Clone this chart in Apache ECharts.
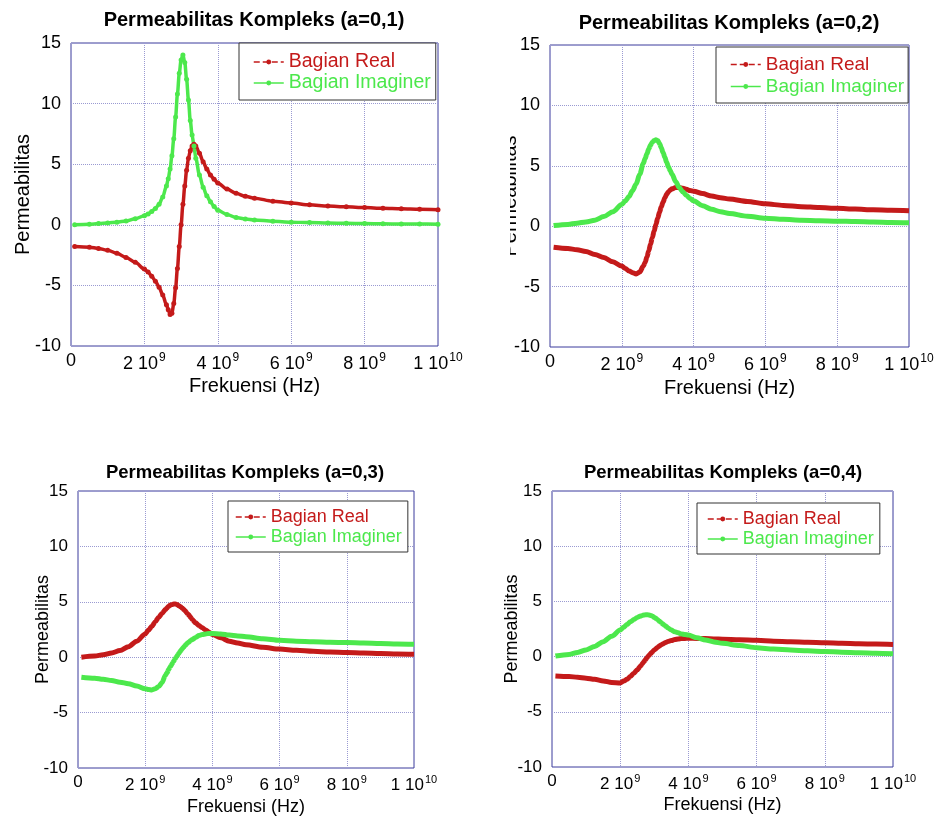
<!DOCTYPE html>
<html>
<head>
<meta charset="utf-8">
<title>Permeabilitas Kompleks</title>
<script src="https://cdn.jsdelivr.net/npm/echarts@6/dist/echarts.min.js"></script>
<style>
  html, body { margin: 0; padding: 0; background: #fff; }
  #chart { width: 940px; height: 818px; }
</style>
</head>
<body>
<div id="chart"></div>
<script>
// frekuensi dalam GHz (sumbu x ditampilkan sebagai 10^9 Hz)
const freqGHz = [0.1, 0.5, 0.75, 1.0, 1.25, 1.5, 1.75,
  2.0, 2.1, 2.2, 2.3, 2.4, 2.5, 2.6,
  2.65, 2.7, 2.75, 2.8, 2.85, 2.9, 2.95, 3.0, 3.05, 3.1, 3.15, 3.2, 3.25, 3.3, 3.35, 3.4,
  3.5, 3.6, 3.7, 3.8, 3.9, 4.0,
  4.25, 4.5, 4.75, 5.0,
  5.5, 6.0, 6.5, 7.0, 7.5, 8.0, 8.5, 9.0, 9.5, 10.0]

// a = 0,1
const real01 = [-1.8, -1.85, -1.95, -2.1, -2.35, -2.7, -3.1,
  -3.65, -3.9, -4.25, -4.65, -5.15, -5.8, -6.6,
  -7.0, -7.4, -7.3, -6.5, -5.2, -3.6, -1.8, 0.0, 1.7, 3.2, 4.5, 5.5, 6.1, 6.5, 6.65, 6.5,
  5.9, 5.2, 4.6, 4.1, 3.75, 3.45,
  2.95, 2.6, 2.35, 2.2,
  1.95, 1.8, 1.65, 1.55, 1.48, 1.42, 1.36, 1.32, 1.28, 1.25]
const imag01 = [0.0, 0.05, 0.1, 0.15, 0.22, 0.32, 0.5,
  0.75, 0.9, 1.1, 1.35, 1.7, 2.3, 3.2,
  3.8, 4.6, 5.7, 7.1, 8.9, 10.8, 12.5, 13.6, 14.0, 13.4, 12.0, 10.3, 8.6, 7.4, 6.5, 5.5,
  4.1, 3.1, 2.4, 1.9, 1.5, 1.2,
  0.85, 0.6, 0.48, 0.4,
  0.3, 0.22, 0.18, 0.15, 0.12, 0.1, 0.08, 0.07, 0.06, 0.05]

// a = 0,2
const real02 = [-1.75, -1.85, -1.95, -2.1, -2.35, -2.6, -2.95,
  -3.3, -3.5, -3.7, -3.85, -3.95, -3.8, -3.3,
  -3.0, -2.55, -2.05, -1.5, -0.95, -0.4, 0.15, 0.65, 1.15, 1.6, 2.0, 2.35, 2.65, 2.85, 3.0, 3.1,
  3.2, 3.2, 3.15, 3.05, 2.95, 2.9,
  2.7, 2.5, 2.35, 2.25,
  2.05, 1.85, 1.72, 1.62, 1.55, 1.48, 1.42, 1.36, 1.32, 1.28]
const imag02 = [0.05, 0.15, 0.25, 0.35, 0.5, 0.8, 1.2,
  1.8, 2.1, 2.45, 2.95, 3.5, 4.3, 5.2,
  5.6, 6.0, 6.4, 6.7, 6.95, 7.1, 7.15, 7.1, 6.85, 6.5, 6.1, 5.7, 5.3, 4.9, 4.6, 4.3,
  3.7, 3.2, 2.85, 2.55, 2.3, 2.1,
  1.7, 1.4, 1.2, 1.05,
  0.82, 0.66, 0.57, 0.5, 0.46, 0.42, 0.38, 0.34, 0.31, 0.28]

// a = 0,3
const real03 = [0.0, 0.1, 0.22, 0.38, 0.6, 0.95, 1.45,
  2.1, 2.45, 2.8, 3.2, 3.6, 3.95, 4.3,
  4.45, 4.6, 4.7, 4.75, 4.8, 4.8, 4.75, 4.65, 4.55, 4.45, 4.3, 4.15, 3.95, 3.8, 3.6, 3.4,
  3.1, 2.85, 2.65, 2.45, 2.25, 2.05,
  1.75, 1.45, 1.28, 1.12,
  0.9, 0.73, 0.62, 0.53, 0.46, 0.42, 0.38, 0.33, 0.3, 0.27]
const imag03 = [-1.8, -1.9, -2.0, -2.1, -2.25, -2.4, -2.6,
  -2.85, -2.92, -2.95, -2.85, -2.65, -2.3, -1.65,
  -1.4, -1.1, -0.85, -0.6, -0.35, -0.1, 0.12, 0.35, 0.55, 0.75, 0.92, 1.1, 1.25, 1.38, 1.5, 1.6,
  1.78, 1.95, 2.05, 2.1, 2.15, 2.15,
  2.1, 2.0, 1.92, 1.85,
  1.67, 1.52, 1.45, 1.4, 1.35, 1.32, 1.28, 1.24, 1.2, 1.18]

// a = 0,4
const real04 = [-1.75, -1.8, -1.87, -1.95, -2.05, -2.2, -2.35,
  -2.38, -2.22, -2.05, -1.8, -1.5, -1.2, -0.85,
  -0.65, -0.45, -0.25, -0.05, 0.12, 0.3, 0.45, 0.6, 0.72, 0.85, 0.96, 1.06, 1.15, 1.23, 1.3, 1.36,
  1.46, 1.54, 1.6, 1.63, 1.65, 1.66,
  1.65, 1.63, 1.6, 1.57,
  1.52, 1.47, 1.4, 1.35, 1.3, 1.25, 1.2, 1.16, 1.13, 1.1]
const imag04 = [0.05, 0.2, 0.38, 0.6, 0.92, 1.35, 1.85,
  2.4, 2.65, 2.9, 3.15, 3.35, 3.55, 3.68,
  3.73, 3.77, 3.8, 3.8, 3.77, 3.72, 3.65, 3.55, 3.45, 3.33, 3.2, 3.08, 2.95, 2.85, 2.72, 2.6,
  2.4, 2.25, 2.15, 2.05, 2.0, 1.95,
  1.7, 1.5, 1.33, 1.2,
  1.0, 0.8, 0.68, 0.6, 0.52, 0.46, 0.4, 0.34, 0.3, 0.25]

const titles = ['Permeabilitas Kompleks (a=0,1)', 'Permeabilitas Kompleks (a=0,2)',
  'Permeabilitas Kompleks (a=0,3)', 'Permeabilitas Kompleks (a=0,4)']
const xTickBase = ['0', '2 10', '4 10', '6 10', '8 10', '1 10']
const xTickExp = ['', '9', '9', '9', '9', '10']

const FONT = '"Liberation Sans", Arial, sans-serif'
const RED = '#c41a1a'
const GREEN = '#4ce84c'

// tata letak tiap panel (piksel)
const panels = [
  { real: real01, imag: imag01, grid: { left: 71, top: 43, width: 367, height: 303 },
    titleX: 254, titleY: 10, titleFs: 20, nameFs: 20, legendFs: 19.5, tick: 18, yGap: 38, xGap: 30,
    legend: { left: 239, top: 43, padding: [9, 5, 7, 14], itemGap: 1 }, dots: true },
  { real: real02, imag: imag02, grid: { left: 550, top: 45, width: 359, height: 302 },
    titleX: 729, titleY: 13, titleFs: 20, nameFs: 20, legendFs: 19, tick: 18, yGap: 30, xGap: 31,
    legend: { left: 716, top: 47, padding: [8, 4, 7, 14], itemGap: 3 }, dots: false },
  { real: real03, imag: imag03, grid: { left: 78, top: 491, width: 336, height: 277 },
    titleX: 245, titleY: 463, titleFs: 18.5, nameFs: 18, legendFs: 18, tick: 17, yGap: 26, xGap: 30,
    legend: { left: 228, top: 501, padding: [7, 6, 6, 7], itemGap: 2 }, dots: false },
  { real: real04, imag: imag04, grid: { left: 552, top: 491, width: 341, height: 276 },
    titleX: 723, titleY: 463, titleFs: 18.5, nameFs: 18, legendFs: 18, tick: 17, yGap: 31, xGap: 29,
    legend: { left: 697, top: 503, padding: [7, 6, 6, 10], itemGap: 2 }, dots: false }
]

const chart = echarts.init(document.getElementById('chart'))

const option = {
  animation: false,
  backgroundColor: '#fff',
  title: [], grid: [], xAxis: [], yAxis: [], legend: [], series: [],
  graphic: [{
    // label sumbu y panel kanan atas terpotong di gambar asli
    type: 'rect', left: 490, top: 120, shape: { width: 20, height: 140 },
    style: { fill: '#fff' }, z: 100
  }]
}

panels.forEach((p, i) => {
  option.title.push({
    text: titles[i], left: p.titleX, top: p.titleY, textAlign: 'center', padding: 0,
    textStyle: { fontFamily: FONT, fontSize: p.titleFs, fontWeight: 'bold', color: '#000' }
  })
  option.grid.push(Object.assign({ show: true, borderColor: '#3d3d99', borderWidth: 1, backgroundColor: '#fff' }, p.grid))
  option.xAxis.push({
    type: 'value', gridIndex: i, min: 0, max: 10, interval: 2,
    name: 'Frekuensi (Hz)', nameLocation: 'middle', nameGap: p.xGap, nameMoveOverlap: false,
    nameTextStyle: { fontFamily: FONT, fontSize: p.nameFs, color: '#000' },
    axisLine: { show: false }, axisTick: { show: false },
    splitLine: { show: true, lineStyle: { color: '#9a9ad2', type: 'dotted', width: 1 } },
    axisLabel: {
      margin: 6, showMaxLabel: true, showMinLabel: true, hideOverlap: false,
      formatter: (v) => {
        const k = Math.round(v / 2)
        return xTickExp[k] ? '{n|' + xTickBase[k] + '}{e|' + xTickExp[k] + '}' : '{n|' + xTickBase[k] + '}'
      },
      rich: {
        n: { fontFamily: FONT, fontSize: p.tick, color: '#000', verticalAlign: 'bottom' },
        e: { fontFamily: FONT, fontSize: p.tick - 6, color: '#000', verticalAlign: 'bottom', padding: [0, 0, 9, 1] }
      }
    }
  })
  option.yAxis.push({
    type: 'value', gridIndex: i, min: -10, max: 15, interval: 5,
    name: 'Permeabilitas', nameLocation: 'middle', nameGap: p.yGap, nameMoveOverlap: false,
    nameTextStyle: { fontFamily: FONT, fontSize: p.nameFs, color: '#000' },
    axisLine: { show: false }, axisTick: { show: false },
    splitLine: { show: true, lineStyle: { color: '#9a9ad2', type: 'dotted', width: 1 } },
    axisLabel: { fontFamily: FONT, fontSize: p.tick, color: '#000', margin: 10 }
  })
  option.legend.push({
    orient: 'vertical', left: p.legend.left, top: p.legend.top,
    padding: p.legend.padding, itemGap: p.legend.itemGap,
    itemWidth: 30, itemHeight: 6,
    backgroundColor: '#fff', borderColor: '#333', borderWidth: 1, borderRadius: 0,
    selectedMode: false,
    textStyle: { fontFamily: FONT, fontSize: p.legendFs, lineHeight: p.legendFs },
    data: [
      { name: 'Bagian Real', textStyle: { color: RED }, lineStyle: { type: 'dashed', width: 1.5 } },
      { name: 'Bagian Imaginer', textStyle: { color: GREEN }, lineStyle: { width: 1.5 } }
    ]
  })
  const common = {
    type: 'line', xAxisIndex: i, yAxisIndex: i,
    symbol: 'circle', symbolSize: p.dots ? 5 : 4, showSymbol: p.dots,
    smooth: 0.3, smoothMonotone: 'x'
  }
  option.series.push(Object.assign({}, common, {
    name: 'Bagian Real',
    data: freqGHz.map((f, k) => [f, p.real[k]]),
    itemStyle: { color: RED },
    lineStyle: { color: RED, width: p.dots ? 3.5 : 5 }
  }))
  option.series.push(Object.assign({}, common, {
    name: 'Bagian Imaginer',
    data: freqGHz.map((f, k) => [f, p.imag[k]]),
    itemStyle: { color: GREEN },
    lineStyle: { color: GREEN, width: p.dots ? 3.5 : 5 }
  }))
})

chart.setOption(option)
</script>
</body>
</html>
